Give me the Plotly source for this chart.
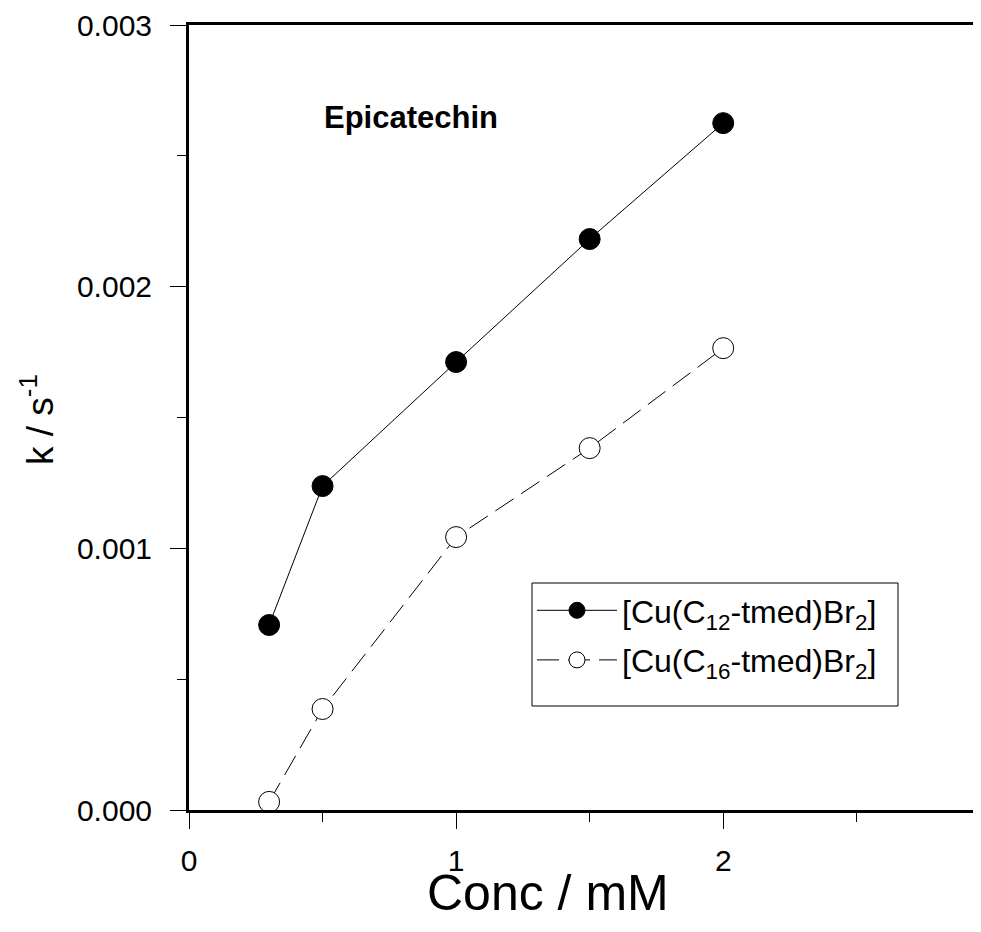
import plotly.graph_objects as go

conc = [0.3, 0.5, 1.0, 1.5, 2.0]
k_c12 = [0.000707, 0.001238, 0.001712, 0.002182, 0.002625]
k_c16 = [0.000031, 0.000386, 0.001043, 0.001383, 0.001765]
name_c12 = "[Cu(C<sub>12</sub>-tmed)Br<sub>2</sub>]"
name_c16 = "[Cu(C<sub>16</sub>-tmed)Br<sub>2</sub>]"
x_ticks = [0, 1, 2]
y_ticks = [0.000, 0.001, 0.002, 0.003]

FONT = "Liberation Sans, Arial, sans-serif"

# page body has an 8px offset; plot area target: x 189..981, y 25..810
OFF = 8
L, T, PW, PH = 189 - OFF, 25 - OFF, 792, 785


def px(x):
    return (x - 189) / PW


def py(y):
    return (810 - y) / PH


fig = go.Figure()
fig.add_trace(go.Scatter(
    x=conc, y=k_c12, mode="lines+markers", name=name_c12, legendgroup="a",
    line=dict(color="black", width=1),
    marker=dict(symbol="circle", size=21, color="black", line=dict(color="black", width=1)),
))
fig.add_trace(go.Scatter(
    x=conc, y=k_c16, mode="lines+markers", name=name_c16, legendgroup="b",
    line=dict(color="black", width=1, dash="22px,9px"),
    marker=dict(symbol="circle", size=21, color="white", line=dict(color="black", width=1)),
))

fig.update_layout(
    width=L + PW, height=916,
    margin=dict(l=L, r=0, t=T, b=916 - T - PH),
    paper_bgcolor="white", plot_bgcolor="white",
    font=dict(family=FONT, color="black", size=30),
    showlegend=True,
    legend=dict(
        x=px(532), y=py(583), xanchor="left", yanchor="top",
        bgcolor="rgba(0,0,0,0)", borderwidth=0,
        font=dict(size=32, family=FONT), tracegroupgap=5, itemwidth=80,
    ),
    shapes=[
        dict(type="rect", xref="paper", yref="paper",
             x0=px(532), x1=px(898), y0=py(706), y1=py(583),
             line=dict(color="black", width=1), fillcolor="white", layer="below"),
    ],
    xaxis=dict(
        range=[0, 2.965], showline=True, linecolor="black", linewidth=3, mirror=True,
        showgrid=False, zeroline=False,
        tickmode="array", tickvals=x_ticks, ticktext=[str(v) for v in x_ticks],
        ticks="outside", ticklen=16, tickwidth=1, tickcolor="black",
        minor=dict(dtick=0.5, ticks="outside", ticklen=9, tickwidth=1, tickcolor="black", showgrid=False),
        tickfont=dict(size=30), ticklabelstandoff=6,
    ),
    yaxis=dict(
        range=[0, 0.003], showline=True, linecolor="black", linewidth=3,
        showgrid=False, zeroline=False,
        tickmode="array", tickvals=y_ticks, ticktext=[f"{v:.3f}" for v in y_ticks],
        ticks="outside", ticklen=16, tickwidth=1, tickcolor="black",
        minor=dict(dtick=0.0005, ticks="outside", ticklen=9, tickwidth=1, tickcolor="black", showgrid=False),
        tickfont=dict(size=30), ticklabelstandoff=12,
    ),
    annotations=[
        dict(text="<b>Epicatechin</b>", xref="paper", yref="paper",
             x=px(322), y=py(118), xanchor="left", yanchor="middle",
             showarrow=False, font=dict(size=31, family=FONT)),
        dict(text="Conc / mM", xref="paper", yref="paper",
             x=px(548), y=py(893), xanchor="center", yanchor="middle",
             showarrow=False, font=dict(size=50, family=FONT)),
        dict(text="k / s<sup>-1</sup>", xref="paper", yref="paper", textangle=-90,
             x=px(37), y=py(420), xanchor="center", yanchor="middle",
             showarrow=False, font=dict(size=37, family=FONT)),
    ],
)

fig.write_html("out.html")
